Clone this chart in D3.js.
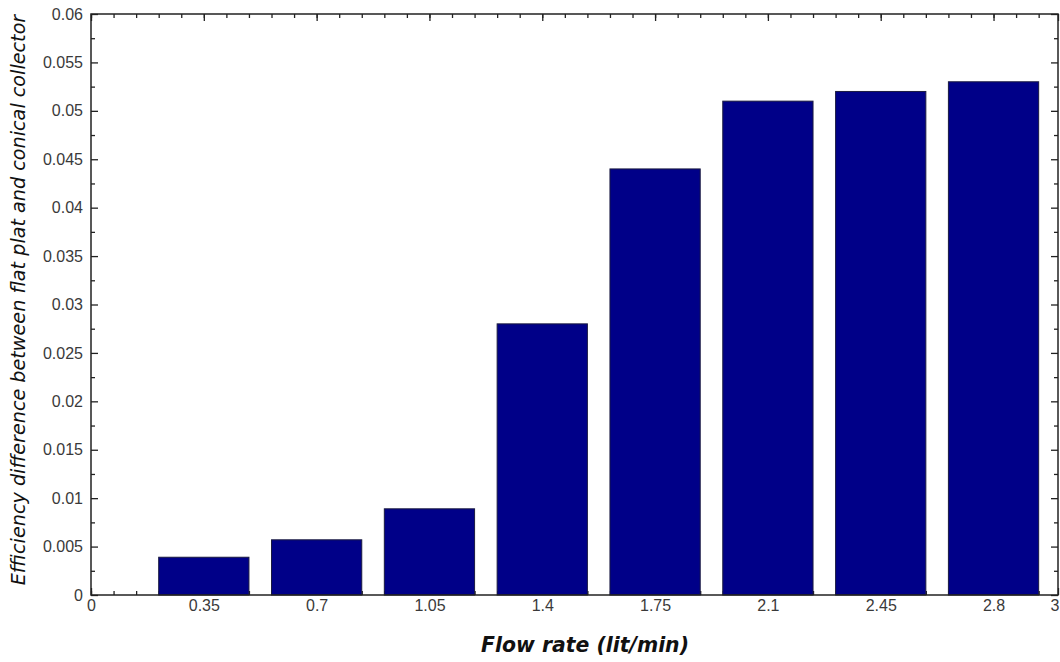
<!DOCTYPE html>
<html>
<head>
<meta charset="utf-8">
<script src="https://cdn.jsdelivr.net/npm/d3@7"></script>
<style>
  body { margin: 0; background: #fff; }
  svg { display: block; }
  .tick text { font-family: "Liberation Sans", Arial, sans-serif; font-size: 16px; fill: #3a3a3a; }
</style>
</head>
<body>
<script>
// flow rates and efficiency difference
var flowRates = [0.35, 0.7, 1.05, 1.4, 1.75, 2.1, 2.45, 2.8];
var effDiff = [0.0039, 0.0057, 0.0089, 0.028, 0.044, 0.051, 0.052, 0.053];
var xTickLabels = ["0", "0.35", "0.7", "1.05", "1.4", "1.75", "2.1", "2.45", "2.8", "3"];
var yTickLabels = ["0", "0.005", "0.01", "0.015", "0.02", "0.025", "0.03", "0.035", "0.04", "0.045", "0.05", "0.055", "0.06"];

var svgWidth = 1060, svgHeight = 662;
var margin = { left: 91, top: 14, right: 2, bottom: 67 };
var w = svgWidth - margin.left - margin.right;
var h = svgHeight - margin.top - margin.bottom;

var svg = d3.select("body").append("svg")
  .attr("width", svgWidth)
  .attr("height", svgHeight);

var g = svg.append("g").attr("transform", "translate(" + margin.left + "," + margin.top + ")");

var x = d3.scaleLinear().domain([0, 3]).range([0, w]);
var y = d3.scaleLinear().domain([0, 0.06]).range([h, 0]);

var xMajor = xTickLabels.map(Number);
var yMajor = yTickLabels.map(Number);
// minor ticks: 5 per 0.35 on x, halfway on y
var xMinor = d3.range(0, 43).map(function(i) { return i * 0.07; }).filter(function(v) { return v <= 3; });
var yMinor = d3.range(0, 12).map(function(i) { return i * 0.005 + 0.0025; });

function styleAxis(sel) {
  sel.select(".domain").remove();
  sel.selectAll("line").attr("stroke", "#222").attr("stroke-width", 1.3);
}

// minor ticks, all four sides, pointing inward
g.append("g").attr("transform", "translate(0," + h + ")")
  .call(d3.axisBottom(x).tickValues(xMinor).tickSize(-4).tickFormat("")).call(styleAxis);
g.append("g")
  .call(d3.axisTop(x).tickValues(xMinor).tickSize(-4).tickFormat("")).call(styleAxis);
g.append("g")
  .call(d3.axisLeft(y).tickValues(yMinor).tickSize(-4).tickFormat("")).call(styleAxis);
g.append("g").attr("transform", "translate(" + w + ",0)")
  .call(d3.axisRight(y).tickValues(yMinor).tickSize(-4).tickFormat("")).call(styleAxis);

// major ticks with labels
var xAx = g.append("g").attr("transform", "translate(0," + h + ")")
  .call(d3.axisBottom(x).tickValues(xMajor).tickSize(-7).tickPadding(5)
    .tickFormat(function(d, i) { return xTickLabels[i]; }))
  .call(styleAxis);
// last label sits at the page edge, keep it inside
xAx.selectAll(".tick text").filter(function(d) { return d === 3; })
  .attr("text-anchor", "end").attr("dx", "1");
g.append("g")
  .call(d3.axisTop(x).tickValues(xMajor).tickSize(-7).tickFormat("")).call(styleAxis);
g.append("g")
  .call(d3.axisLeft(y).tickValues(yMajor).tickSize(-7).tickPadding(8)
    .tickFormat(function(d, i) { return yTickLabels[i]; }))
  .call(styleAxis);
g.append("g").attr("transform", "translate(" + w + ",0)")
  .call(d3.axisRight(y).tickValues(yMajor).tickSize(-7).tickFormat("")).call(styleAxis);

// bars, width 0.28 of a flow unit
var barW = x(0.28) - x(0);
g.selectAll("rect.bar")
  .data(flowRates)
  .enter()
  .append("rect")
  .attr("class", "bar")
  .attr("x", function(d) { return x(d) - barW / 2; })
  .attr("y", function(d, i) { return y(effDiff[i]); })
  .attr("width", barW)
  .attr("height", function(d, i) { return h - y(effDiff[i]); })
  .attr("fill", "#000088")
  .attr("stroke", "#1a1a40")
  .attr("stroke-width", 1);

// frame
g.append("rect")
  .attr("x", 0).attr("y", 0)
  .attr("width", w).attr("height", h)
  .attr("fill", "none")
  .attr("stroke", "#222")
  .attr("stroke-width", 1.5);

// axis titles
svg.append("text")
  .attr("x", 585)
  .attr("y", 652)
  .attr("text-anchor", "middle")
  .style("font-family", "'DejaVu Sans', Verdana, sans-serif")
  .style("font-size", "20.4px")
  .style("font-weight", "bold")
  .style("font-style", "italic")
  .attr("fill", "#111")
  .text("Flow rate (lit/min)");

svg.append("text")
  .attr("transform", "translate(25," + 300 + ") rotate(-90)")
  .attr("text-anchor", "middle")
  .style("font-family", "'DejaVu Sans', Verdana, sans-serif")
  .style("font-size", "19.2px")
  .style("font-style", "italic")
  .attr("fill", "#111")
  .text("Efficiency difference between flat plat and conical collector");
</script>
</body>
</html>
